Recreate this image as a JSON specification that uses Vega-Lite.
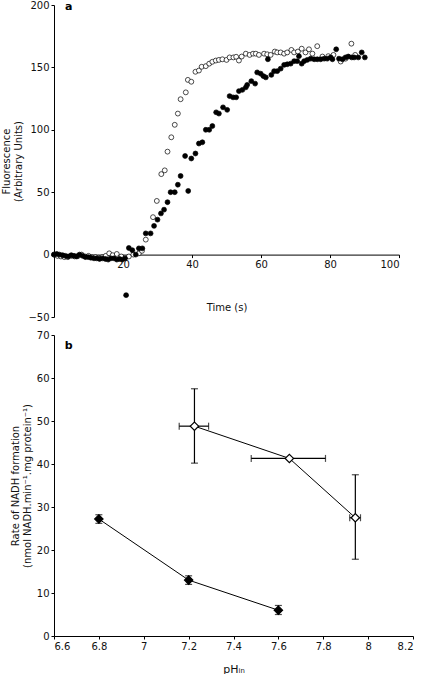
{
  "$schema": "https://vega.github.io/schema/vega-lite/v6.json",
  "padding": {"left": 1, "top": 0, "right": 0, "bottom": 0},
  "background": "white",
  "spacing": 8,
  "config": {
    "view": {"stroke": null},
    "font": "DejaVu Sans",
    "axis": {
      "grid": false,
      "domainColor": "black",
      "domainWidth": 1,
      "tickColor": "black",
      "tickSize": 3,
      "labelFont": "DejaVu Sans",
      "labelFontSize": 10,
      "labelColor": "#111",
      "titleFont": "DejaVu Sans",
      "titleFontSize": 10,
      "titleFontWeight": "normal",
      "titleColor": "#111"
    }
  },
  "vconcat": [
    {
      "width": 345,
      "height": 312,
      "data": {"values": [
        {"t": 0, "f": 0, "s": "open"}, {"t": 1, "f": -1, "s": "open"}, {"t": 2, "f": -1.5, "s": "open"}, {"t": 3, "f": -2, "s": "open"}, {"t": 4, "f": -2, "s": "open"}, {"t": 5, "f": -1, "s": "open"}, {"t": 6, "f": -1.5, "s": "open"}, {"t": 7, "f": -1, "s": "open"}, {"t": 8, "f": 0, "s": "open"}, {"t": 9, "f": -1.5, "s": "open"}, {"t": 10, "f": -1, "s": "open"}, {"t": 11, "f": -2, "s": "open"}, {"t": 12, "f": -2, "s": "open"}, {"t": 13, "f": -2.5, "s": "open"}, {"t": 14, "f": -2, "s": "open"}, {"t": 15, "f": -1, "s": "open"}, {"t": 16, "f": 1, "s": "open"}, {"t": 17, "f": -0.5, "s": "open"}, {"t": 18.2, "f": 0.5, "s": "open"}, {"t": 19.5, "f": -1.5, "s": "open"}, {"t": 21.7, "f": -1.5, "s": "open"}, {"t": 23, "f": 0, "s": "open"}, {"t": 24.6, "f": 1, "s": "open"}, {"t": 25.5, "f": 3, "s": "open"},
        {"t": 26.6, "f": 12, "s": "open"}, {"t": 28.7, "f": 30, "s": "open"}, {"t": 29.8, "f": 43, "s": "open"}, {"t": 31.1, "f": 64.5, "s": "open"}, {"t": 32.1, "f": 67.5, "s": "open"}, {"t": 32.9, "f": 82.5, "s": "open"}, {"t": 34, "f": 94, "s": "open"}, {"t": 35, "f": 104, "s": "open"}, {"t": 35.9, "f": 113, "s": "open"}, {"t": 36.7, "f": 124.5, "s": "open"}, {"t": 38.2, "f": 130, "s": "open"}, {"t": 38.8, "f": 140, "s": "open"}, {"t": 39.8, "f": 138.5, "s": "open"}, {"t": 41, "f": 146.5, "s": "open"}, {"t": 42, "f": 147.5, "s": "open"}, {"t": 42.8, "f": 150.5, "s": "open"}, {"t": 44, "f": 151, "s": "open"}, {"t": 45, "f": 153, "s": "open"}, {"t": 45.9, "f": 154.5, "s": "open"}, {"t": 46.9, "f": 155.5, "s": "open"}, {"t": 47.8, "f": 156, "s": "open"}, {"t": 48.8, "f": 156.5, "s": "open"}, {"t": 50, "f": 156, "s": "open"}, {"t": 50.9, "f": 158, "s": "open"}, {"t": 52, "f": 158, "s": "open"}, {"t": 52.8, "f": 158.5, "s": "open"}, {"t": 53.6, "f": 155.5, "s": "open"}, {"t": 54.4, "f": 158.7, "s": "open"}, {"t": 55.6, "f": 161, "s": "open"}, {"t": 56.7, "f": 160, "s": "open"}, {"t": 57.7, "f": 161, "s": "open"}, {"t": 58.5, "f": 161, "s": "open"}, {"t": 59.4, "f": 160, "s": "open"}, {"t": 60.9, "f": 161, "s": "open"}, {"t": 61.8, "f": 160.5, "s": "open"}, {"t": 62.8, "f": 160, "s": "open"}, {"t": 64, "f": 162.7, "s": "open"}, {"t": 64.7, "f": 162, "s": "open"}, {"t": 65.7, "f": 162, "s": "open"}, {"t": 66.7, "f": 161, "s": "open"}, {"t": 67.6, "f": 162, "s": "open"}, {"t": 68.8, "f": 164, "s": "open"}, {"t": 69.6, "f": 162, "s": "open"}, {"t": 70.7, "f": 162.7, "s": "open"}, {"t": 71.8, "f": 165, "s": "open"}, {"t": 72.9, "f": 162, "s": "open"}, {"t": 73.9, "f": 164.5, "s": "open"}, {"t": 74.9, "f": 161, "s": "open"}, {"t": 76.3, "f": 167, "s": "open"}, {"t": 77.8, "f": 158.7, "s": "open"}, {"t": 79.5, "f": 159, "s": "open"}, {"t": 81, "f": 160, "s": "open"}, {"t": 83.1, "f": 154.7, "s": "open"}, {"t": 84.5, "f": 157, "s": "open"}, {"t": 86.2, "f": 169, "s": "open"}, {"t": 87.3, "f": 160, "s": "open"},
        {"t": 0, "f": 0, "s": "filled"}, {"t": 0.8, "f": 0.5, "s": "filled"}, {"t": 1.6, "f": 0, "s": "filled"}, {"t": 2.5, "f": -0.5, "s": "filled"}, {"t": 3.3, "f": -1, "s": "filled"}, {"t": 4.1, "f": -1.5, "s": "filled"}, {"t": 5, "f": -0.5, "s": "filled"}, {"t": 5.8, "f": -1, "s": "filled"}, {"t": 6.6, "f": -1.5, "s": "filled"}, {"t": 7.4, "f": 0, "s": "filled"}, {"t": 8.3, "f": -1, "s": "filled"}, {"t": 9.1, "f": -2, "s": "filled"}, {"t": 9.9, "f": -2, "s": "filled"}, {"t": 10.7, "f": -2.5, "s": "filled"}, {"t": 11.6, "f": -3, "s": "filled"}, {"t": 12.4, "f": -3, "s": "filled"}, {"t": 13.2, "f": -3.5, "s": "filled"}, {"t": 14, "f": -3, "s": "filled"}, {"t": 14.9, "f": -3.5, "s": "filled"}, {"t": 15.7, "f": -4, "s": "filled"}, {"t": 16.5, "f": -3, "s": "filled"}, {"t": 17.4, "f": -3, "s": "filled"}, {"t": 18.2, "f": -4, "s": "filled"}, {"t": 19, "f": -3.5, "s": "filled"}, {"t": 19.8, "f": -4, "s": "filled"}, {"t": 20.6, "f": -3, "s": "filled"},
        {"t": 20.9, "f": -32.5, "s": "filled"}, {"t": 21.7, "f": 5.3, "s": "filled"}, {"t": 22.7, "f": 3.5, "s": "filled"}, {"t": 23.7, "f": 0, "s": "filled"}, {"t": 24.6, "f": 5, "s": "filled"}, {"t": 25.6, "f": 5, "s": "filled"}, {"t": 26.6, "f": 17, "s": "filled"}, {"t": 28, "f": 17, "s": "filled"}, {"t": 29, "f": 23, "s": "filled"}, {"t": 30, "f": 28, "s": "filled"}, {"t": 31, "f": 33, "s": "filled"}, {"t": 31.9, "f": 36, "s": "filled"}, {"t": 32.9, "f": 42, "s": "filled"}, {"t": 33.8, "f": 50, "s": "filled"}, {"t": 35, "f": 50, "s": "filled"}, {"t": 35.9, "f": 56, "s": "filled"}, {"t": 36.7, "f": 63, "s": "filled"}, {"t": 38, "f": 79, "s": "filled"}, {"t": 38.9, "f": 51, "s": "filled"}, {"t": 39.8, "f": 77, "s": "filled"}, {"t": 41, "f": 81, "s": "filled"}, {"t": 42, "f": 89, "s": "filled"}, {"t": 43, "f": 90, "s": "filled"}, {"t": 44, "f": 100, "s": "filled"}, {"t": 45, "f": 100, "s": "filled"}, {"t": 45.9, "f": 103, "s": "filled"}, {"t": 47, "f": 114, "s": "filled"}, {"t": 47.8, "f": 113, "s": "filled"}, {"t": 49, "f": 118, "s": "filled"}, {"t": 50.2, "f": 116, "s": "filled"}, {"t": 50.9, "f": 127, "s": "filled"}, {"t": 51.9, "f": 126, "s": "filled"}, {"t": 52.8, "f": 126, "s": "filled"}, {"t": 53.6, "f": 131, "s": "filled"}, {"t": 54.6, "f": 132, "s": "filled"}, {"t": 55.6, "f": 134, "s": "filled"}, {"t": 56, "f": 136, "s": "filled"}, {"t": 57.2, "f": 139, "s": "filled"}, {"t": 58.3, "f": 137, "s": "filled"}, {"t": 58.9, "f": 146, "s": "filled"}, {"t": 59.9, "f": 145, "s": "filled"}, {"t": 60.7, "f": 143, "s": "filled"}, {"t": 61.4, "f": 142, "s": "filled"}, {"t": 62, "f": 156.5, "s": "filled"}, {"t": 63, "f": 144, "s": "filled"}, {"t": 63.8, "f": 147, "s": "filled"}, {"t": 64.7, "f": 147, "s": "filled"}, {"t": 65.7, "f": 149, "s": "filled"}, {"t": 66.7, "f": 152, "s": "filled"}, {"t": 67.6, "f": 152.5, "s": "filled"}, {"t": 68.6, "f": 153, "s": "filled"}, {"t": 69.6, "f": 155, "s": "filled"}, {"t": 70.5, "f": 155, "s": "filled"}, {"t": 71, "f": 159, "s": "filled"}, {"t": 71.8, "f": 153, "s": "filled"}, {"t": 72.5, "f": 155, "s": "filled"}, {"t": 73.4, "f": 156, "s": "filled"}, {"t": 74.4, "f": 157, "s": "filled"}, {"t": 75.4, "f": 156.5, "s": "filled"}, {"t": 76.3, "f": 156.5, "s": "filled"}, {"t": 77.3, "f": 156.5, "s": "filled"}, {"t": 78.3, "f": 157, "s": "filled"}, {"t": 79.2, "f": 157, "s": "filled"}, {"t": 80.2, "f": 158, "s": "filled"}, {"t": 80.7, "f": 156.5, "s": "filled"}, {"t": 81.8, "f": 164.5, "s": "filled"}, {"t": 82.6, "f": 157, "s": "filled"}, {"t": 83.6, "f": 156.5, "s": "filled"}, {"t": 84.5, "f": 158, "s": "filled"}, {"t": 85.3, "f": 158.7, "s": "filled"}, {"t": 86.3, "f": 158, "s": "filled"}, {"t": 87, "f": 158, "s": "filled"}, {"t": 88.2, "f": 158, "s": "filled"}, {"t": 89.2, "f": 162, "s": "filled"}, {"t": 90.1, "f": 158, "s": "filled"}
      ]},
      "layer": [
        {
          "mark": {"type": "point", "shape": "circle", "size": 24, "stroke": "black", "strokeWidth": 0.7, "opacity": 1, "filled": false},
          "encoding": {
            "x": {"field": "t", "type": "quantitative", "scale": {"domain": [0, 100], "nice": false},
              "axis": {"title": "Time (s)", "values": [0, 20, 40, 60, 80, 100], "offset": -62.4, "labelExpr": "datum.value == 0 ? '' : datum.label", "titlePadding": 33, "tickSize": 3}},
            "y": {"field": "f", "type": "quantitative", "scale": {"domain": [-50, 200], "nice": false},
              "axis": {"title": ["Fluorescence", "(Arbitrary Units)"], "values": [-50, 0, 50, 100, 150, 200], "titlePadding": 4, "tickSize": 3}},
            "fill": {"field": "s", "type": "nominal", "scale": {"domain": ["open", "filled"], "range": ["white", "black"]}, "legend": null}
          }
        },
        {
          "data": {"values": [{"panel": "a"}]},
          "mark": {"type": "text", "align": "left", "baseline": "middle", "fontWeight": "bold", "fontSize": 11, "color": "black"},
          "encoding": {
            "x": {"datum": 3.2, "type": "quantitative"},
            "y": {"datum": 198, "type": "quantitative"},
            "text": {"field": "panel"}
          }
        }
      ]
    },
    {
      "width": 359,
      "height": 301,
      "data": {"values": [
        {"ph": 7.226, "rate": 48.8, "s": "open", "xlo": 7.158, "xhi": 7.289, "ylo": 40.2, "yhi": 57.5},
        {"ph": 7.649, "rate": 41.3, "s": "open", "xlo": 7.479, "xhi": 7.81, "ylo": null, "yhi": null},
        {"ph": 7.943, "rate": 27.5, "s": "open", "xlo": 7.918, "xhi": 7.966, "ylo": 17.85, "yhi": 37.5},
        {"ph": 6.8, "rate": 27.2, "s": "filled", "xlo": null, "xhi": null, "ylo": 26.2, "yhi": 28.2},
        {"ph": 7.2, "rate": 13.0, "s": "filled", "xlo": null, "xhi": null, "ylo": 12.0, "yhi": 14.0},
        {"ph": 7.6, "rate": 6.0, "s": "filled", "xlo": null, "xhi": null, "ylo": 5.0, "yhi": 7.1}
      ]},
      "layer": [
        {
          "mark": {"type": "line", "color": "black", "strokeWidth": 1},
          "encoding": {
            "x": {"field": "ph", "type": "quantitative", "title": "pHᵢₙ", "scale": {"domain": [6.6, 8.2], "nice": false, "zero": false},
              "axis": {"values": [6.6, 6.8, 7, 7.2, 7.4, 7.6, 7.8, 8, 8.2], "format": ".2~f", "titlePadding": 12, "titleFontSize": 11}},
            "y": {"field": "rate", "type": "quantitative", "title": "RATE_TITLE", "scale": {"domain": [0, 70], "nice": false},
              "axis": {"title": ["Rate of NADH formation", "(nmol NADH.min⁻¹.mg protein⁻¹)"], "values": [0, 10, 20, 30, 40, 50, 60, 70], "titlePadding": 4, "tickSize": 3}},
            "detail": {"field": "s"}
          }
        },
        {
          "transform": [{"filter": "isValid(datum.ylo)"}],
          "mark": {"type": "errorbar", "ticks": {"size": 7}, "color": "black", "thickness": 1.2},
          "encoding": {
            "x": {"field": "ph", "type": "quantitative", "title": "pHᵢₙ"},
            "y": {"field": "ylo", "type": "quantitative", "title": "RATE_TITLE", "axis": {"title": ["Rate of NADH formation", "(nmol NADH.min⁻¹.mg protein⁻¹)"]}},
            "y2": {"field": "yhi"}
          }
        },
        {
          "transform": [{"filter": "isValid(datum.xlo)"}],
          "mark": {"type": "errorbar", "ticks": {"size": 7}, "color": "black", "thickness": 1.2},
          "encoding": {
            "y": {"field": "rate", "type": "quantitative", "title": "RATE_TITLE", "axis": {"title": ["Rate of NADH formation", "(nmol NADH.min⁻¹.mg protein⁻¹)"]}},
            "x": {"field": "xlo", "type": "quantitative", "title": "pHᵢₙ"},
            "x2": {"field": "xhi"}
          }
        },
        {
          "mark": {"type": "point", "shape": "diamond", "size": 70, "stroke": "black", "strokeWidth": 1.2, "opacity": 1, "filled": false},
          "encoding": {
            "x": {"field": "ph", "type": "quantitative", "title": "pHᵢₙ"},
            "y": {"field": "rate", "type": "quantitative", "title": "RATE_TITLE", "axis": {"title": ["Rate of NADH formation", "(nmol NADH.min⁻¹.mg protein⁻¹)"]}},
            "fill": {"field": "s", "type": "nominal", "scale": {"domain": ["open", "filled"], "range": ["white", "black"]}, "legend": null}
          }
        },
        {
          "data": {"values": [{"panel": "b"}]},
          "mark": {"type": "text", "align": "left", "baseline": "middle", "fontWeight": "bold", "fontSize": 11, "color": "black"},
          "encoding": {
            "x": {"datum": 6.648, "type": "quantitative"},
            "y": {"datum": 67.4, "type": "quantitative"},
            "text": {"field": "panel"}
          }
        }
      ]
    }
  ]
}
